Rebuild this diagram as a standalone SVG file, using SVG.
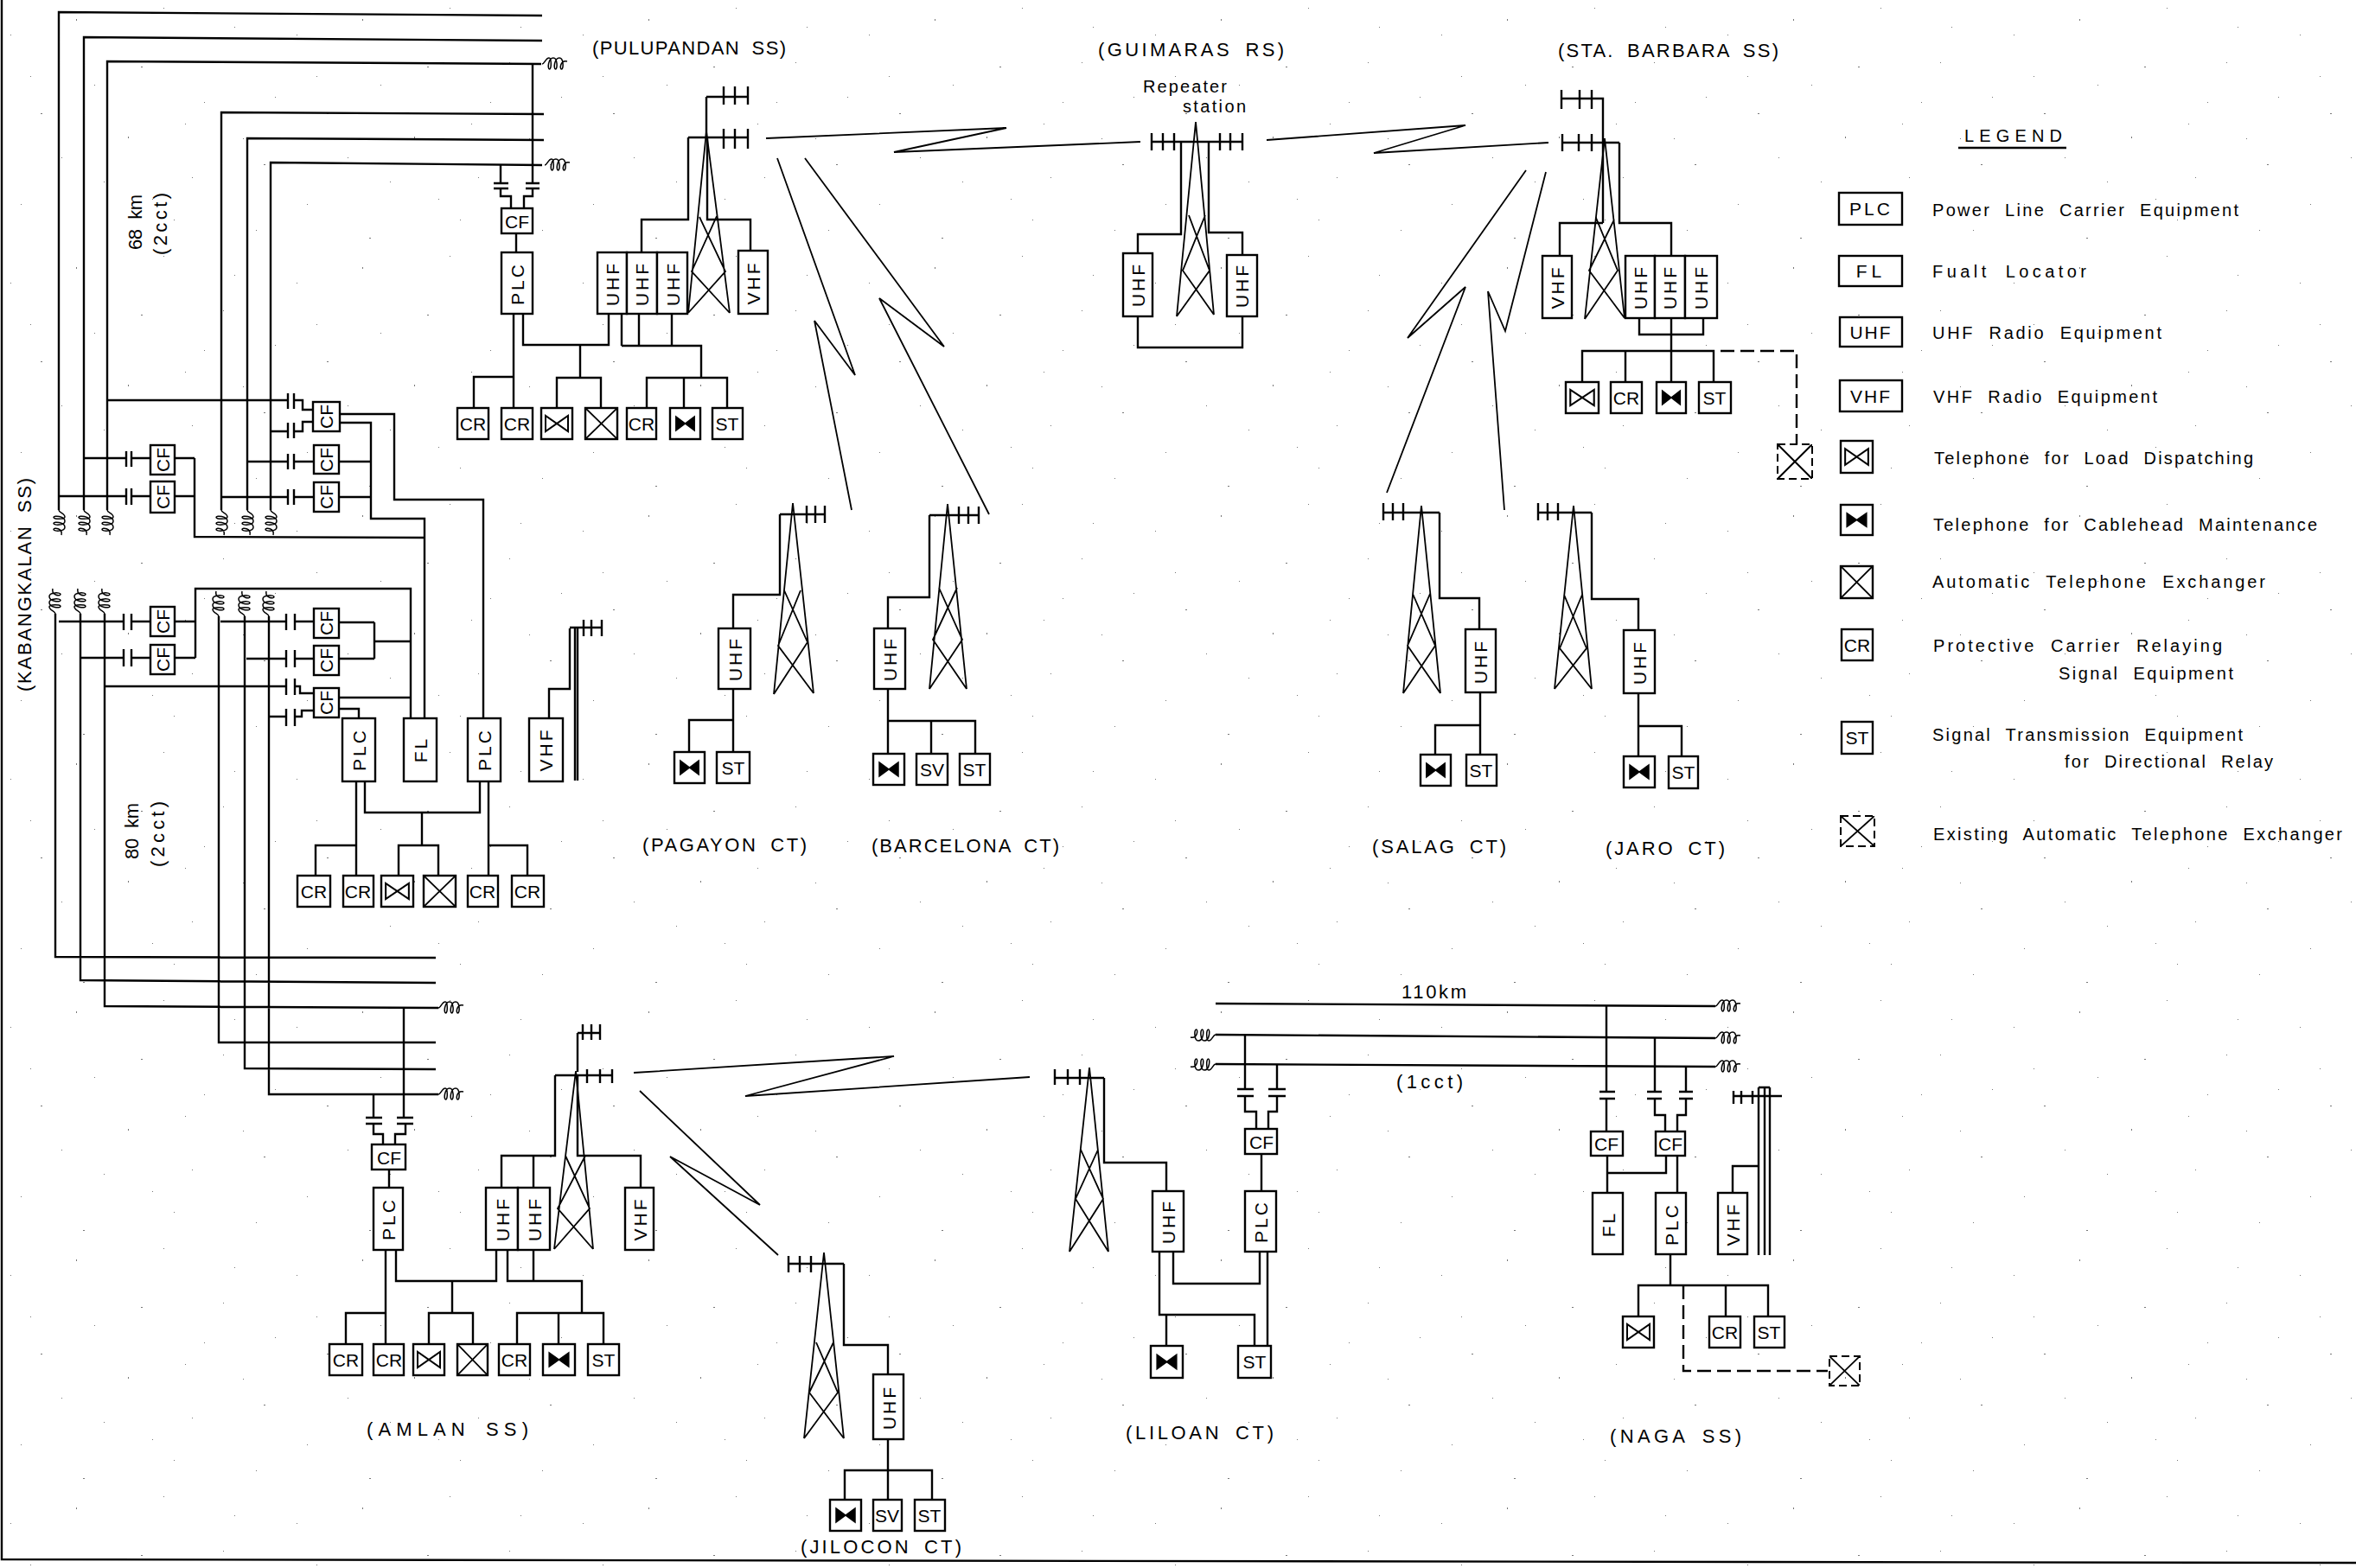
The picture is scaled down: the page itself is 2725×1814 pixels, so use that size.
<svg xmlns="http://www.w3.org/2000/svg" width="2725" height="1814" viewBox="0 0 2725 1814">
<style>
text{font-family:"Liberation Sans",Arial,sans-serif;fill:#000}
.b{fill:#fff;stroke:#000;stroke-width:2.4}
.x{fill:none;stroke:#000;stroke-width:2;stroke-dasharray:9 5}
.w{fill:none;stroke:#000;stroke-width:2.4}
.n{fill:none;stroke:#000;stroke-width:1.8}
.c{fill:none;stroke:#000;stroke-width:1.5}
.d{fill:none;stroke:#000;stroke-width:2.4;stroke-dasharray:16 7}
.t{font-size:21px;text-anchor:middle;dominant-baseline:central}
.r{font-size:21px;text-anchor:middle;dominant-baseline:central;letter-spacing:3px}
.l{font-size:22px;word-spacing:6px}
.g{font-size:20px;word-spacing:8px}
</style>
<defs>
<pattern id="speck" width="331" height="287" patternUnits="userSpaceOnUse"><path fill="#777" d="M12 40h1v1h-1zM47 131h2v1h-2zM88 22h1v2h-1zM120 210h1v1h-1zM163 77h2v1h-2zM201 254h1v1h-1zM236 118h1v1h-1zM271 31h1v1h-1zM305 190h2v1h-2zM24 236h1v1h-1zM71 182h1v1h-1zM109 98h1v1h-1zM148 158h1v2h-1zM189 9h1v1h-1zM222 205h1v1h-1zM258 72h1v1h-1zM296 266h1v1h-1zM318 112h1v1h-1zM35 88h1v1h-1zM96 275h2v1h-2zM176 230h1v1h-1zM214 143h1v1h-1zM281 160h1v1h-1z"/></pattern>
<symbol id="tl" viewBox="0 0 36 36" preserveAspectRatio="none"><path d="M5 9V27L31 9V27Z" fill="none" stroke="#000" stroke-width="2"/></symbol>
<symbol id="tc" viewBox="0 0 36 36" preserveAspectRatio="none"><path d="M7 10V26L29 10V26Z" fill="#000" stroke="#000" stroke-width="1.5"/></symbol>
<symbol id="ate" viewBox="0 0 36 36" preserveAspectRatio="none"><path d="M0 0L36 36M36 0L0 36" fill="none" stroke="#000" stroke-width="1.8"/></symbol>
<path id="coil" class="c" d="M0 9C3 9 4 2 8 2C11 2 11 15 8.500 15C6 15 7 2 13 2C18 2 18 15 15.500 15C13 15 14 2 20 2C25 2 25 15 22.500 15C20 15 21 4 29 6"/>
</defs>
<rect width="2725" height="1814" fill="#fff"/>
<rect width="2725" height="1814" fill="url(#speck)"/>
<path class="w" d="M2 0V1804L2725 1808"/>

<g id="connectors">
<path class="w" d="M627 18L68 14V590M627 47L97 43V590M626 74L124 71V590M629 132L256 130V590M629 162L286 160V590M627 191L313 188V590"/>
<path class="w" d="M64 710V1107L504 1108M93 710V1134L504 1137M121 710V1164L507 1166M253 713V1206H504M283 713V1236L504 1237M311 713V1266H507"/>
<use href="#coil" transform="translate(627 65)"/><use href="#coil" transform="translate(630 182)"/>
<use href="#coil" transform="translate(77 590) rotate(90)"/><use href="#coil" transform="translate(106 590) rotate(90)"/><use href="#coil" transform="translate(133 590) rotate(90)"/>
<use href="#coil" transform="translate(265 590) rotate(90)"/><use href="#coil" transform="translate(295 590) rotate(90)"/><use href="#coil" transform="translate(322 590) rotate(90)"/>
<use href="#coil" transform="translate(55 710) rotate(-90)"/><use href="#coil" transform="translate(84 710) rotate(-90)"/><use href="#coil" transform="translate(112 710) rotate(-90)"/>
<use href="#coil" transform="translate(244 713) rotate(-90)"/><use href="#coil" transform="translate(274 713) rotate(-90)"/><use href="#coil" transform="translate(302 713) rotate(-90)"/>
<use href="#coil" transform="translate(507 1157)"/><use href="#coil" transform="translate(507 1257)"/>
<path class="w" d="M124 463H333M340 463H350V474H362M313 499H333M340 499H350V488H362M333 455V473M340 455V473M333 489V507M340 489V507"/>
<path class="w" d="M96 530H146M152 530H174M146 522V540M152 522V540M202 530H225M67 574H146M152 574H174M146 565V584M152 565V584M202 574H225M225 530V621L491 622"/>
<path class="w" d="M286 534H333M340 534H363M333 525V543M340 525V543M392 534H429M255 575H333M340 575H363M333 566V584M340 566V584M392 575H429M393 489H429V600H491V831M393 479H456V578H559V831"/>
<path class="w" d="M68 719H143M152 719H174M143 710V729M152 710V729M202 719H226M94 761H143M152 761H174M143 751V771M152 751V771M202 761H226M226 761V681H475V831"/>
<path class="w" d="M255 719H331M341 719H363M331 710V729M341 710V729M392 720H433M285 762H331M341 762H363M331 752V772M341 752V772M392 762H433M433 720V762M433 742H475"/>
<path class="w" d="M122 794H331M341 794H347V802H363M331 785V804M341 785V804M312 829H331M341 829H349V822H363M331 820V840M341 820V840M392 807H475M392 820H415V831"/>
<path class="w" d="M412 904V1013M422 904V940H555V904M565 904V1013M488 940V978M461 1013V978H507V1013M365 1013V978H412M565 978H610V1013"/>
<path class="w" d="M635 831V797H659V727"/>
<path class="w" d="M616 74V212M579 191V212M571 212H588M571 218H588M608 212H624M608 218H624M579 218V227H591V241M616 218V227H606V241M597 270V292"/>
<path class="w" d="M594 363V472M605 363V399H704V363M719 363V400M739 363V400M777 363V400M719 400H811V437M671 399V437M644 472V437H695V472M548 472V436H594M748 472V437H841V472M791 437V472"/>
<path class="w" d="M796 159V254H742V292M818 159V254H868V290"/>
<path class="n" d="M886 160L1164 148L1034 176L1319 164"/>
<path class="n" d="M1465 162L1695 145L1589 177L1791 165"/>
<path class="n" d="M899 183L989 434L942 371L985 590"/>
<path class="n" d="M931 183L1092 401L1017 345L1144 595"/>
<path class="n" d="M1765 197L1628 391L1695 332L1604 570"/>
<path class="n" d="M1788 199L1741 383L1721 337L1740 590"/>
<path class="n" d="M733 1241L1034 1222L862 1268L1191 1246"/>
<path class="n" d="M740 1262L879 1394L775 1338L900 1452"/>
<path class="w" d="M1366 164V271H1316V293M1398 164V269H1437V295M1316 366V402H1437V366"/>
<path class="w" d="M1873 165V258H1933V296M1854 258H1804V296M1896 368V387H1970V368M1933 368V442M1830 442V406H1982V442M1880 406V442"/>
<path class="d" d="M1990 406H2078V514"/>
<path class="w" d="M902 595V688H848V727M848 797V870M848 833H797V870"/>
<path class="w" d="M1075 596V691H1027V727M1027 797V872M1027 834H1128V872M1077 834V872"/>
<path class="w" d="M1665 593V692H1711V728M1712 801V873M1712 839H1660V873"/>
<path class="w" d="M1841 593V693H1895V729M1895 802V875M1895 840H1945V875"/>
<path class="w" d="M467 1166V1293M432 1266V1293M423 1293H442M423 1300H442M459 1293H478M459 1300H478M432 1300V1312H443V1324M469 1300V1312H457V1324M450 1353V1374"/>
<path class="w" d="M642 1244V1337H580V1374M617 1337V1374M668 1244V1337H741V1374"/>
<path class="w" d="M446 1446V1555M458 1446V1482H574V1446M587 1446V1482H673V1519M617 1446V1482M598 1555V1519H698V1555M646 1519V1555M523 1482V1519M496 1555V1519H547V1555M400 1555V1519H446"/>
<path class="w" d="M976 1462V1556H1027V1590M1027 1665V1735M977 1735V1701H1078V1735"/>
<path class="w" d="M1406 1161L1984 1164M1406 1197L1984 1201M1406 1231L1984 1234"/>
<use href="#coil" transform="translate(1984 1155)"/><use href="#coil" transform="translate(1984 1192)"/><use href="#coil" transform="translate(1984 1225)"/>
<use href="#coil" transform="translate(1406 1206) rotate(180)"/><use href="#coil" transform="translate(1406 1240) rotate(180)"/>
<path class="w" d="M1440 1197V1260M1477 1232V1260M1431 1260H1450M1431 1268H1450M1467 1260H1487M1467 1268H1487M1440 1268V1286H1453V1306M1477 1268V1286H1467V1306M1459 1335V1378"/>
<path class="w" d="M1277 1247V1345H1349V1378M1357 1448V1485H1457V1448M1341 1448V1521H1451V1557M1349 1521V1557M1466 1448V1557"/>
<path class="w" d="M1858 1163V1263M1850 1263H1868M1850 1271H1868M1858 1271V1309M1914 1201V1263M1950 1234V1263M1905 1263H1922M1905 1271H1922M1942 1263H1958M1942 1271H1958M1914 1271V1290H1926V1309M1950 1271V1290H1940V1309M1859 1337V1380M1859 1357H1927V1337M1940 1337V1380"/>
<path class="w" d="M1932 1451V1487M1895 1523V1487H2045V1523M1996 1487V1523M2004 1380V1349H2034"/>
<path class="d" d="M1947 1487V1586H2114"/>
</g>

<g id="tower-pulupandan"><path class="n" d="M796 362L817 152L844 362M809 251L839 314L796 362M829 250L800 314L844 362"/><path class="w" d="M817 112V160M817 112H865M837 100V121M850 100V121M865 100V121M796 159H865M837 149V172M850 149V172M865 149V172"/></g>
<g id="tower-guimaras"><path class="n" d="M1361 366L1383 141L1404 364M1375 249L1399 313L1361 366M1394 249L1368 313L1404 364"/><path class="w" d="M1332 164H1437M1332 154V174M1345 154V174M1358 154V174M1411 154V174M1423 154V174M1437 154V174"/></g>
<g id="tower-stabarbara"><path class="n" d="M1833 369L1856 160L1879 368M1846 252L1871 313L1833 369M1867 254L1838 313L1879 368"/><path class="w" d="M1806 114H1854V258M1806 104V126M1827 104V126M1841 104V126M1807 165H1873M1807 155V175M1826 155V175M1841 155V175"/></g>
<g id="tower-pagayon"><path class="n" d="M895 803L917 582L941 802M907 683L934 743L895 803M926 683L900 747L941 802"/><path class="w" d="M902 595H954M933 585V605M943 585V605M954 585V605"/></g>
<g id="tower-barcelona"><path class="n" d="M1075 797L1096 583L1118 797M1086 680L1113 740L1075 797M1107 680L1079 740L1118 797"/><path class="w" d="M1075 596H1132M1109 586V606M1120 586V606M1132 586V606"/></g>
<g id="tower-salag"><path class="n" d="M1623 802L1644 585L1666 802M1634 687L1660 747L1623 802M1654 687L1628 747L1666 802"/><path class="w" d="M1600 593H1665M1600 582V602M1611 582V602M1623 582V602"/></g>
<g id="tower-jaro"><path class="n" d="M1798 797L1820 585L1841 797M1809 688L1835 750L1798 797M1830 688L1804 750L1841 797"/><path class="w" d="M1779 593H1841M1779 582V602M1790 582V602M1802 582V602"/></g>
<g id="tower-amlan"><path class="n" d="M641 1445L666 1239L686 1445M654 1337L682 1398L641 1445M677 1337L645 1398L686 1445"/><path class="w" d="M668 1195V1240M668 1195H694M674 1185V1203M684 1185V1203M694 1185V1203M642 1244H708M679 1237V1253M694 1237V1253M708 1237V1253"/></g>
<g id="tower-jilocon"><path class="n" d="M930 1664L953 1449L976 1664M944 1553L969 1611L930 1664M964 1553L936 1611L976 1664"/><path class="w" d="M912 1462H976M912 1453V1472M925 1453V1472M938 1453V1472"/></g>
<g id="tower-liloan"><path class="n" d="M1237 1448L1260 1235L1282 1448M1250 1330L1276 1387L1237 1448M1270 1330L1244 1387L1282 1448"/><path class="w" d="M1220 1247H1277M1220 1237V1255M1235 1237V1255M1249 1237V1255"/></g>
<g id="antenna-kabangkalan"><path class="w" d="M659 726H696M675 717V736M684 717V736M696 717V736M665 727V903M668 727V903"/></g>
<g id="antenna-naga"><path class="w" d="M2034 1258V1452M2041 1258V1452M2047 1258V1452M2034 1258H2047M2004 1268H2061M2005 1262V1277M2014 1262V1277M2027 1262V1277"/></g>

<g id="pul-cf"><rect class="b" x="580" y="241" width="36" height="29"/><text class="t" x="598" y="256">CF</text></g>
<g id="pul-plc"><rect class="b" x="580" y="292" width="36" height="71"/><text class="r" transform="rotate(-90 598 328)" x="598" y="328">PLC</text></g>
<g id="pul-uhf1"><rect class="b" x="691" y="292" width="34" height="71"/><text class="r" transform="rotate(-90 708 328)" x="708" y="328">UHF</text></g>
<g id="pul-uhf2"><rect class="b" x="725" y="292" width="35" height="71"/><text class="r" transform="rotate(-90 742 328)" x="742" y="328">UHF</text></g>
<g id="pul-uhf3"><rect class="b" x="760" y="292" width="35" height="71"/><text class="r" transform="rotate(-90 778 328)" x="778" y="328">UHF</text></g>
<g id="pul-vhf"><rect class="b" x="854" y="290" width="34" height="73"/><text class="r" transform="rotate(-90 871 327)" x="871" y="327">VHF</text></g>
<g id="pul-cr1"><rect class="b" x="529" y="472" width="36" height="36"/><text class="t" x="547" y="490">CR</text></g>
<g id="pul-cr2"><rect class="b" x="580" y="472" width="36" height="36"/><text class="t" x="598" y="490">CR</text></g>
<g id="pul-tl"><rect class="b" x="626" y="472" width="36" height="36"/><use href="#tl" x="626" y="472" width="36" height="36"/></g>
<g id="pul-ate"><rect class="b" x="677" y="472" width="37" height="36"/><use href="#ate" x="677" y="472" width="37" height="36"/></g>
<g id="pul-cr3"><rect class="b" x="725" y="472" width="34" height="36"/><text class="t" x="742" y="490">CR</text></g>
<g id="pul-tc"><rect class="b" x="775" y="472" width="35" height="36"/><use href="#tc" x="775" y="472" width="35" height="36"/></g>
<g id="pul-st"><rect class="b" x="824" y="472" width="35" height="36"/><text class="t" x="841" y="490">ST</text></g>

<g id="kab-cf0"><rect class="b" x="362" y="465" width="31" height="34"/><text class="r" transform="rotate(-90 377 482)" x="377" y="482" style="letter-spacing:0">CF</text></g>
<g id="kab-cf1"><rect class="b" x="174" y="515" width="28" height="34"/><text class="r" transform="rotate(-90 188 532)" x="188" y="532" style="letter-spacing:0">CF</text></g>
<g id="kab-cf2"><rect class="b" x="174" y="557" width="28" height="36"/><text class="r" transform="rotate(-90 188 575)" x="188" y="575" style="letter-spacing:0">CF</text></g>
<g id="kab-cf3"><rect class="b" x="363" y="515" width="29" height="33"/><text class="r" transform="rotate(-90 377 532)" x="377" y="532" style="letter-spacing:0">CF</text></g>
<g id="kab-cf4"><rect class="b" x="363" y="558" width="29" height="34"/><text class="r" transform="rotate(-90 377 575)" x="377" y="575" style="letter-spacing:0">CF</text></g>
<g id="kab-cf5"><rect class="b" x="174" y="702" width="28" height="34"/><text class="r" transform="rotate(-90 188 719)" x="188" y="719" style="letter-spacing:0">CF</text></g>
<g id="kab-cf6"><rect class="b" x="174" y="746" width="28" height="34"/><text class="r" transform="rotate(-90 188 763)" x="188" y="763" style="letter-spacing:0">CF</text></g>
<g id="kab-cf7"><rect class="b" x="363" y="704" width="29" height="34"/><text class="r" transform="rotate(-90 377 721)" x="377" y="721" style="letter-spacing:0">CF</text></g>
<g id="kab-cf8"><rect class="b" x="363" y="747" width="29" height="34"/><text class="r" transform="rotate(-90 377 764)" x="377" y="764" style="letter-spacing:0">CF</text></g>
<g id="kab-cf9"><rect class="b" x="363" y="796" width="29" height="34"/><text class="r" transform="rotate(-90 377 813)" x="377" y="813" style="letter-spacing:0">CF</text></g>
<g id="kab-plc1"><rect class="b" x="396" y="831" width="38" height="73"/><text class="r" transform="rotate(-90 415 867)" x="415" y="867">PLC</text></g>
<g id="kab-fl"><rect class="b" x="467" y="831" width="38" height="73"/><text class="r" transform="rotate(-90 486 867)" x="486" y="867">FL</text></g>
<g id="kab-plc2"><rect class="b" x="541" y="831" width="38" height="73"/><text class="r" transform="rotate(-90 560 867)" x="560" y="867">PLC</text></g>
<g id="kab-vhf"><rect class="b" x="612" y="831" width="39" height="73"/><text class="r" transform="rotate(-90 631 867)" x="631" y="867">VHF</text></g>
<g id="kab-cr1"><rect class="b" x="344" y="1013" width="38" height="36"/><text class="t" x="363" y="1031">CR</text></g>
<g id="kab-cr2"><rect class="b" x="397" y="1013" width="35" height="36"/><text class="t" x="414" y="1031">CR</text></g>
<g id="kab-tl"><rect class="b" x="441" y="1013" width="37" height="36"/><use href="#tl" x="441" y="1013" width="37" height="36"/></g>
<g id="kab-ate"><rect class="b" x="490" y="1013" width="37" height="36"/><use href="#ate" x="490" y="1013" width="37" height="36"/></g>
<g id="kab-cr3"><rect class="b" x="541" y="1013" width="35" height="36"/><text class="t" x="558" y="1031">CR</text></g>
<g id="kab-cr4"><rect class="b" x="592" y="1013" width="37" height="36"/><text class="t" x="610" y="1031">CR</text></g>

<g id="gui-uhf1"><rect class="b" x="1299" y="293" width="34" height="73"/><text class="r" transform="rotate(-90 1316 329)" x="1316" y="329">UHF</text></g>
<g id="gui-uhf2"><rect class="b" x="1419" y="295" width="35" height="71"/><text class="r" transform="rotate(-90 1436 330)" x="1436" y="330">UHF</text></g>

<g id="sta-vhf"><rect class="b" x="1784" y="296" width="34" height="72"/><text class="r" transform="rotate(-90 1801 332)" x="1801" y="332">VHF</text></g>
<g id="sta-uhf1"><rect class="b" x="1880" y="296" width="34" height="72"/><text class="r" transform="rotate(-90 1897 332)" x="1897" y="332">UHF</text></g>
<g id="sta-uhf2"><rect class="b" x="1914" y="296" width="35" height="72"/><text class="r" transform="rotate(-90 1931 332)" x="1931" y="332">UHF</text></g>
<g id="sta-uhf3"><rect class="b" x="1949" y="296" width="37" height="72"/><text class="r" transform="rotate(-90 1967 332)" x="1967" y="332">UHF</text></g>
<g id="sta-tl"><rect class="b" x="1811" y="442" width="38" height="36"/><use href="#tl" x="1811" y="442" width="38" height="36"/></g>
<g id="sta-cr"><rect class="b" x="1863" y="442" width="36" height="36"/><text class="t" x="1881" y="460">CR</text></g>
<g id="sta-tc"><rect class="b" x="1916" y="442" width="34" height="36"/><use href="#tc" x="1916" y="442" width="34" height="36"/></g>
<g id="sta-st"><rect class="b" x="1965" y="442" width="37" height="36"/><text class="t" x="1983" y="460">ST</text></g>
<g id="sta-ex"><rect class="x" x="2056" y="514" width="40" height="40"/><use href="#ate" x="2056" y="514" width="40" height="40"/></g>

<g id="pag-uhf"><rect class="b" x="831" y="727" width="37" height="70"/><text class="r" transform="rotate(-90 850 762)" x="850" y="762">UHF</text></g>
<g id="pag-tc"><rect class="b" x="780" y="870" width="35" height="36"/><use href="#tc" x="780" y="870" width="35" height="36"/></g>
<g id="pag-st"><rect class="b" x="829" y="870" width="38" height="36"/><text class="t" x="848" y="888">ST</text></g>
<g id="bar-uhf"><rect class="b" x="1011" y="727" width="36" height="70"/><text class="r" transform="rotate(-90 1029 762)" x="1029" y="762">UHF</text></g>
<g id="bar-tc"><rect class="b" x="1010" y="872" width="36" height="36"/><use href="#tc" x="1010" y="872" width="36" height="36"/></g>
<g id="bar-sv"><rect class="b" x="1060" y="872" width="36" height="36"/><text class="t" x="1078" y="890">SV</text></g>
<g id="bar-st"><rect class="b" x="1110" y="872" width="35" height="36"/><text class="t" x="1127" y="890">ST</text></g>
<g id="sal-uhf"><rect class="b" x="1695" y="728" width="35" height="73"/><text class="r" transform="rotate(-90 1712 765)" x="1712" y="765">UHF</text></g>
<g id="sal-tc"><rect class="b" x="1643" y="873" width="35" height="36"/><use href="#tc" x="1643" y="873" width="35" height="36"/></g>
<g id="sal-st"><rect class="b" x="1696" y="873" width="35" height="36"/><text class="t" x="1713" y="891">ST</text></g>
<g id="jar-uhf"><rect class="b" x="1878" y="729" width="36" height="73"/><text class="r" transform="rotate(-90 1896 766)" x="1896" y="766">UHF</text></g>
<g id="jar-tc"><rect class="b" x="1878" y="875" width="36" height="36"/><use href="#tc" x="1878" y="875" width="36" height="36"/></g>
<g id="jar-st"><rect class="b" x="1930" y="875" width="34" height="37"/><text class="t" x="1947" y="893">ST</text></g>

<g id="aml-cf"><rect class="b" x="430" y="1324" width="39" height="29"/><text class="t" x="450" y="1339">CF</text></g>
<g id="aml-plc"><rect class="b" x="432" y="1374" width="34" height="72"/><text class="r" transform="rotate(-90 449 1410)" x="449" y="1410">PLC</text></g>
<g id="aml-uhf1"><rect class="b" x="562" y="1374" width="37" height="72"/><text class="r" transform="rotate(-90 581 1410)" x="581" y="1410">UHF</text></g>
<g id="aml-uhf2"><rect class="b" x="599" y="1374" width="37" height="72"/><text class="r" transform="rotate(-90 618 1410)" x="618" y="1410">UHF</text></g>
<g id="aml-vhf"><rect class="b" x="723" y="1374" width="33" height="72"/><text class="r" transform="rotate(-90 740 1410)" x="740" y="1410">VHF</text></g>
<g id="aml-cr1"><rect class="b" x="381" y="1555" width="38" height="36"/><text class="t" x="400" y="1573">CR</text></g>
<g id="aml-cr2"><rect class="b" x="432" y="1555" width="35" height="36"/><text class="t" x="450" y="1573">CR</text></g>
<g id="aml-tl"><rect class="b" x="478" y="1555" width="36" height="36"/><use href="#tl" x="478" y="1555" width="36" height="36"/></g>
<g id="aml-ate"><rect class="b" x="529" y="1555" width="35" height="36"/><use href="#ate" x="529" y="1555" width="35" height="36"/></g>
<g id="aml-cr3"><rect class="b" x="577" y="1555" width="36" height="36"/><text class="t" x="595" y="1573">CR</text></g>
<g id="aml-tc"><rect class="b" x="628" y="1555" width="37" height="36"/><use href="#tc" x="628" y="1555" width="37" height="36"/></g>
<g id="aml-st"><rect class="b" x="680" y="1555" width="36" height="36"/><text class="t" x="698" y="1573">ST</text></g>

<g id="jil-uhf"><rect class="b" x="1010" y="1590" width="35" height="75"/><text class="r" transform="rotate(-90 1028 1628)" x="1028" y="1628">UHF</text></g>
<g id="jil-tc"><rect class="b" x="960" y="1735" width="36" height="36"/><use href="#tc" x="960" y="1735" width="36" height="36"/></g>
<g id="jil-sv"><rect class="b" x="1010" y="1735" width="33" height="36"/><text class="t" x="1026" y="1753">SV</text></g>
<g id="jil-st"><rect class="b" x="1058" y="1735" width="35" height="36"/><text class="t" x="1075" y="1753">ST</text></g>

<g id="lil-cf"><rect class="b" x="1440" y="1306" width="37" height="29"/><text class="t" x="1459" y="1321">CF</text></g>
<g id="lil-uhf"><rect class="b" x="1333" y="1378" width="36" height="70"/><text class="r" transform="rotate(-90 1351 1413)" x="1351" y="1413">UHF</text></g>
<g id="lil-plc"><rect class="b" x="1440" y="1378" width="36" height="70"/><text class="r" transform="rotate(-90 1458 1413)" x="1458" y="1413">PLC</text></g>
<g id="lil-tc"><rect class="b" x="1331" y="1557" width="37" height="37"/><use href="#tc" x="1331" y="1557" width="37" height="37"/></g>
<g id="lil-st"><rect class="b" x="1432" y="1557" width="38" height="37"/><text class="t" x="1451" y="1575">ST</text></g>

<g id="nag-cf1"><rect class="b" x="1840" y="1309" width="37" height="28"/><text class="t" x="1858" y="1323">CF</text></g>
<g id="nag-cf2"><rect class="b" x="1915" y="1309" width="34" height="28"/><text class="t" x="1932" y="1323">CF</text></g>
<g id="nag-fl"><rect class="b" x="1842" y="1380" width="35" height="71"/><text class="r" transform="rotate(-90 1860 1416)" x="1860" y="1416">FL</text></g>
<g id="nag-plc"><rect class="b" x="1915" y="1380" width="35" height="71"/><text class="r" transform="rotate(-90 1933 1416)" x="1933" y="1416">PLC</text></g>
<g id="nag-vhf"><rect class="b" x="1987" y="1380" width="34" height="71"/><text class="r" transform="rotate(-90 2004 1416)" x="2004" y="1416">VHF</text></g>
<g id="nag-tl"><rect class="b" x="1877" y="1523" width="36" height="36"/><use href="#tl" x="1877" y="1523" width="36" height="36"/></g>
<g id="nag-cr"><rect class="b" x="1977" y="1523" width="36" height="36"/><text class="t" x="1995" y="1541">CR</text></g>
<g id="nag-st"><rect class="b" x="2029" y="1523" width="35" height="36"/><text class="t" x="2046" y="1541">ST</text></g>
<g id="nag-ex"><rect class="x" x="2116" y="1569" width="35" height="34"/><use href="#ate" x="2116" y="1569" width="35" height="34"/></g>

<g id="labels">
<text class="l" x="685" y="63" textLength="224">(PULUPANDAN SS)</text>
<text class="l" x="1270" y="65" textLength="215">(GUIMARAS RS)</text>
<text class="l" x="1802" y="66" textLength="255">(STA. BARBARA SS)</text>
<text class="l" x="1322" y="107" textLength="97" style="font-size:20px">Repeater</text>
<text class="l" x="1368" y="130" textLength="73" style="font-size:20px">station</text>
<text class="l" x="743" y="985" textLength="190">(PAGAYON CT)</text>
<text class="l" x="1008" y="986" textLength="217">(BARCELONA CT)</text>
<text class="l" x="1587" y="987" textLength="155">(SALAG CT)</text>
<text class="l" x="1857" y="989" textLength="138">(JARO CT)</text>
<text class="l" x="424" y="1661" textLength="187">(AMLAN SS)</text>
<text class="l" x="926" y="1797" textLength="186">(JILOCON CT)</text>
<text class="l" x="1302" y="1665" textLength="171">(LILOAN CT)</text>
<text class="l" x="1862" y="1669" textLength="152">(NAGA SS)</text>
<text class="l" x="1615" y="1259" textLength="77">(1cct)</text>
<text class="l" x="1621" y="1155" textLength="75">110km</text>
<text class="l" transform="translate(36 800) rotate(-90)" textLength="247">(KABANGKALAN SS)</text>
<text class="l" transform="translate(164 289) rotate(-90)" textLength="64">68 km</text>
<text class="l" transform="translate(193 295) rotate(-90)" textLength="72">(2cct)</text>
<text class="l" transform="translate(160 994) rotate(-90)" textLength="65">80 km</text>
<text class="l" transform="translate(190 1003) rotate(-90)" textLength="76">(2cct)</text>
</g>

<g id="legend">
<text class="g" x="2272" y="164" textLength="113">LEGEND</text>
<path class="w" d="M2265 171H2390"/>
<g id="lg-plc"><rect class="b" x="2127" y="223" width="73" height="37"/><text class="t" x="2164" y="241" style="letter-spacing:3px">PLC</text><text class="g" x="2235" y="250" textLength="354">Power Line Carrier Equipment</text></g>
<g id="lg-fl"><rect class="b" x="2127" y="296" width="73" height="35"/><text class="t" x="2164" y="313" style="letter-spacing:5px">FL</text><text class="g" x="2235" y="321" textLength="178">Fualt Locator</text></g>
<g id="lg-uhf"><rect class="b" x="2128" y="367" width="72" height="34"/><text class="t" x="2164" y="384" style="letter-spacing:2px">UHF</text><text class="g" x="2235" y="392" textLength="265">UHF Radio Equipment</text></g>
<g id="lg-vhf"><rect class="b" x="2128" y="440" width="72" height="36"/><text class="t" x="2164" y="458" style="letter-spacing:2px">VHF</text><text class="g" x="2236" y="466" textLength="259">VHF Radio Equipment</text></g>
<g id="lg-tl"><rect class="b" x="2129" y="510" width="37" height="37"/><use href="#tl" x="2129" y="510" width="37" height="37"/><text class="g" x="2237" y="537" textLength="369">Telephone for Load Dispatching</text></g>
<g id="lg-tc"><rect class="b" x="2129" y="584" width="37" height="35"/><use href="#tc" x="2129" y="584" width="37" height="35"/><text class="g" x="2236" y="614" textLength="444">Telephone for Cablehead Maintenance</text></g>
<g id="lg-ate"><rect class="b" x="2129" y="655" width="37" height="37"/><use href="#ate" x="2129" y="655" width="37" height="37"/><text class="g" x="2235" y="680" textLength="385">Automatic Telephone Exchanger</text></g>
<g id="lg-cr"><rect class="b" x="2130" y="728" width="36" height="36"/><text class="t" x="2148" y="746">CR</text><text class="g" x="2236" y="754" textLength="334">Protective Carrier Relaying</text><text class="g" x="2381" y="786" textLength="202">Signal Equipment</text></g>
<g id="lg-st"><rect class="b" x="2130" y="835" width="36" height="37"/><text class="t" x="2148" y="853">ST</text><text class="g" x="2235" y="857" textLength="359">Signal Transmission Equipment</text><text class="g" x="2388" y="888" textLength="241">for Directional Relay</text></g>
<g id="lg-ex"><rect class="x" x="2129" y="944" width="39" height="35"/><use href="#ate" x="2129" y="944" width="39" height="35"/><text class="g" x="2236" y="972" textLength="473">Existing Automatic Telephone Exchanger</text></g>
</g>
</svg>
